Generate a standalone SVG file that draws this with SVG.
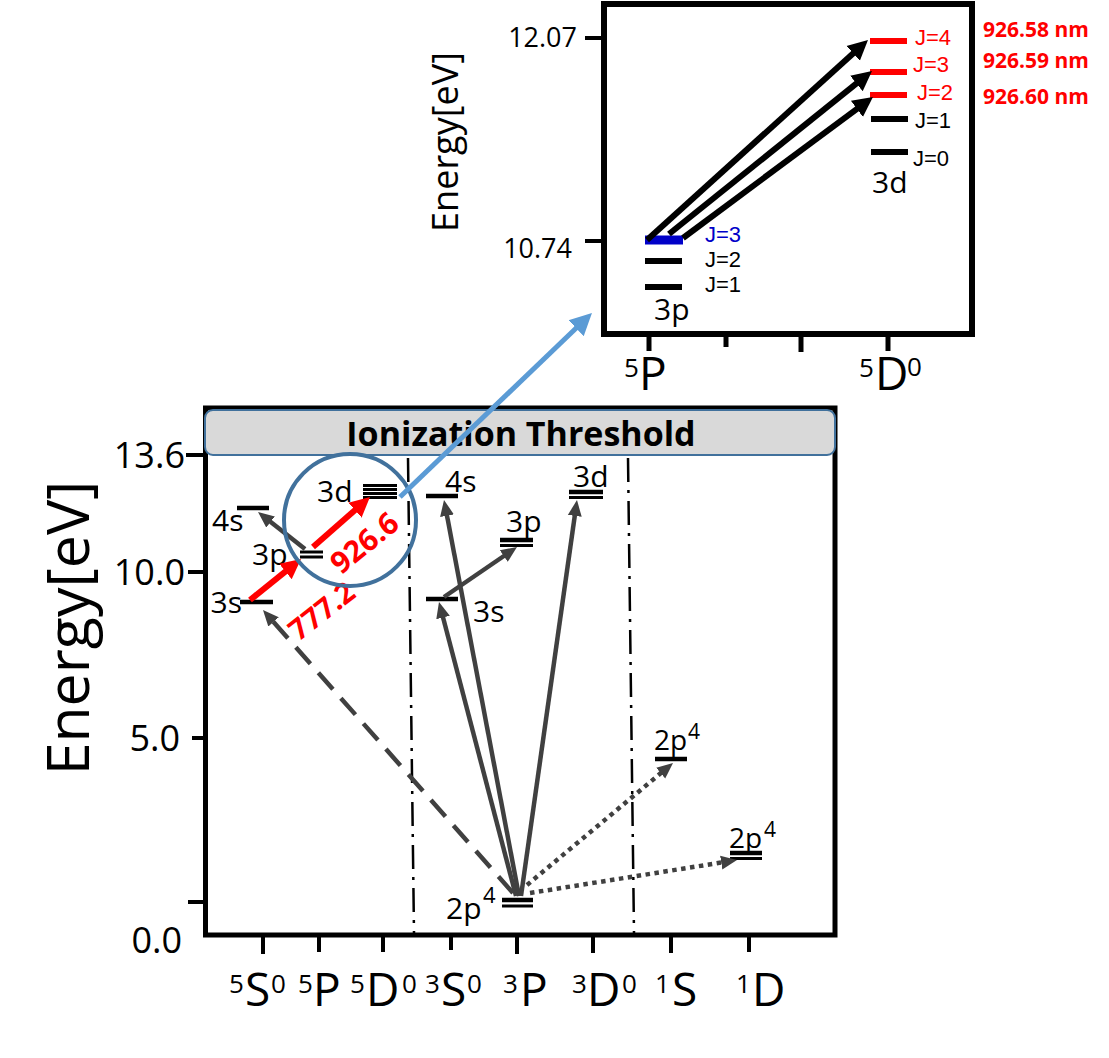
<svg xmlns="http://www.w3.org/2000/svg" width="1109" height="1058" viewBox="0 0 1109 1058">
<style>
text{font-family:"Open Sans","Noto Sans","Liberation Sans",sans-serif;fill:#000}
.lbl{font-size:30px}
.j{font-size:22px;font-family:"Liberation Sans","DejaVu Sans",sans-serif}
.nm{font-size:21px;font-weight:bold;fill:#ff0000}
.red{fill:#ff0000}
.ax{font-size:36px}
.xl{font-size:46px}
.xs{font-size:26px}
.lv{stroke:#000;stroke-width:4.5;fill:none}
.lvt{stroke:#000;stroke-width:3;fill:none}
.tick{stroke:#000;stroke-width:4}
.g{stroke:#404040;stroke-width:4.5;fill:none}
.rd{stroke:#ff0000;stroke-width:6;fill:none}
.bk{stroke:#000;stroke-width:6;fill:none}
.dd{stroke:#000;stroke-width:2.5;stroke-dasharray:24 8 3 8;fill:none}
</style>
<defs>
<marker id="hg" markerUnits="userSpaceOnUse" markerWidth="20" markerHeight="18" refX="1" refY="8" orient="auto" viewBox="0 0 20 16"><path d="M0,1 L16,8 L0,15 z" fill="#404040"/></marker>
<marker id="hr" markerUnits="userSpaceOnUse" markerWidth="24" markerHeight="24" refX="1" refY="11" orient="auto" viewBox="0 0 24 22"><path d="M0,1 L20,11 L0,21 z" fill="#ff0000"/></marker>
<marker id="hk" markerUnits="userSpaceOnUse" markerWidth="24" markerHeight="24" refX="1" refY="11" orient="auto" viewBox="0 0 24 22"><path d="M0,1 L20,11 L0,21 z" fill="#000"/></marker>
<marker id="hb" markerUnits="userSpaceOnUse" markerWidth="26" markerHeight="26" refX="1" refY="12" orient="auto" viewBox="0 0 26 24"><path d="M0,1 L22,12 L0,23 z" fill="#5b9bd5"/></marker>
</defs>

<!-- ===== Main plot frame ===== -->
<g id="main-frame">
<rect x="205.5" y="408" width="629.5" height="527" fill="#fff" stroke="#000" stroke-width="5"/>
<line class="tick" x1="186" y1="455" x2="205" y2="455"/>
<line class="tick" x1="188" y1="572" x2="205" y2="572"/>
<line class="tick" x1="192" y1="738" x2="205" y2="738"/>
<line class="tick" x1="188" y1="902" x2="204" y2="902"/>
<text class="ax" x="185" y="468" text-anchor="end">13.6</text>
<text class="ax" x="185" y="585" text-anchor="end">10.0</text>
<text class="ax" x="180" y="751" text-anchor="end">5.0</text>
<text class="ax" x="182" y="953" text-anchor="end">0.0</text>
<text x="0" y="0" font-size="59" text-anchor="middle" transform="translate(89,628) rotate(-90)">Energy[eV]</text>
<line class="tick" x1="263" y1="936" x2="263" y2="954"/>
<line class="tick" x1="319" y1="936" x2="319" y2="952"/>
<line class="tick" x1="383" y1="936" x2="383" y2="952"/>
<line class="tick" x1="451" y1="936" x2="451" y2="950"/>
<line class="tick" x1="517" y1="936" x2="517" y2="954"/>
<line class="tick" x1="593" y1="936" x2="593" y2="953"/>
<line class="tick" x1="671" y1="936" x2="671" y2="953"/>
<line class="tick" x1="749" y1="936" x2="749" y2="952"/>
<text><tspan class="xs" x="229" y="993">5</tspan><tspan class="xl" x="245" y="1006">S</tspan><tspan class="xs" x="271" y="993">0</tspan></text>
<text><tspan class="xs" x="298" y="993">5</tspan><tspan class="xl" x="313" y="1006">P</tspan></text>
<text><tspan class="xs" x="350" y="993">5</tspan><tspan class="xl" x="366" y="1006">D</tspan><tspan class="xs" x="402" y="993">0</tspan></text>
<text><tspan class="xs" x="425" y="993">3</tspan><tspan class="xl" x="441" y="1006">S</tspan><tspan class="xs" x="467" y="993">0</tspan></text>
<text><tspan class="xs" x="503" y="993">3</tspan><tspan class="xl" x="520" y="1006">P</tspan></text>
<text><tspan class="xs" x="572" y="993">3</tspan><tspan class="xl" x="587" y="1006">D</tspan><tspan class="xs" x="622" y="993">0</tspan></text>
<text><tspan class="xs" x="655" y="993">1</tspan><tspan class="xl" x="672" y="1006">S</tspan></text>
<text><tspan class="xs" x="736" y="993">1</tspan><tspan class="xl" x="752" y="1006">D</tspan></text>
<line class="dd" x1="408" y1="458" x2="414" y2="933"/>
<line class="dd" x1="628" y1="458" x2="634" y2="933"/>
</g>

<g id="ionization-threshold">
<rect x="205" y="410" width="630" height="45" rx="8" ry="8" fill="#d9d9d9" stroke="#41719c" stroke-width="2"/>
<text x="521" y="446" font-size="34" font-weight="bold" text-anchor="middle">Ionization Threshold</text>
</g>

<!-- ===== Levels ===== -->
<g id="lvl-5s0-3s"><line class="lv" x1="240" y1="602" x2="273" y2="602"/><text class="lbl" x="242" y="613" text-anchor="end">3s</text></g>
<g id="lvl-5s0-4s"><line class="lv" x1="237" y1="508" x2="269" y2="508"/><text class="lbl" x="212" y="531">4s</text></g>
<g id="lvl-5p-3p"><line class="lvt" x1="300" y1="552" x2="323" y2="552"/><line class="lvt" x1="300" y1="557" x2="323" y2="557"/><text class="lbl" x="252" y="565">3p</text></g>
<g id="lvl-5d0-3d"><line class="lvt" x1="363" y1="485.5" x2="397" y2="485.5"/><line class="lvt" x1="363" y1="489.5" x2="397" y2="489.5"/><line class="lvt" x1="363" y1="493.5" x2="397" y2="493.5"/><line class="lvt" x1="363" y1="497.5" x2="397" y2="497.5"/><text class="lbl" x="317" y="502">3d</text></g>
<g id="lvl-3s0-3s"><line class="lv" x1="426" y1="599" x2="458" y2="599"/><text class="lbl" x="473" y="622">3s</text></g>
<g id="lvl-3s0-4s"><line class="lv" x1="426" y1="496" x2="458" y2="496"/><text class="lbl" x="445" y="492">4s</text></g>
<g id="lvl-3p-3p"><line class="lv" x1="500" y1="540" x2="533" y2="540"/><line class="lvt" x1="500" y1="545.5" x2="533" y2="545.5"/><text class="lbl" x="506" y="532">3p</text></g>
<g id="lvl-3d0-3d"><line class="lv" x1="569" y1="492" x2="603" y2="492"/><line class="lvt" x1="569" y1="497.5" x2="603" y2="497.5"/><text class="lbl" x="573" y="487">3d</text></g>
<g id="lvl-3p-2p4"><line class="lv" x1="502" y1="900" x2="533" y2="900"/><line class="lvt" x1="502" y1="906" x2="533" y2="906"/><text><tspan class="lbl" x="446" y="919">2p</tspan><tspan font-size="22" x="483" y="903">4</tspan></text></g>
<g id="lvl-1s-2p4"><line class="lv" x1="655" y1="759" x2="687" y2="759"/><text><tspan font-size="28" x="654" y="750">2p</tspan><tspan font-size="21" x="688" y="739">4</tspan></text></g>
<g id="lvl-1d-2p4"><line class="lv" x1="730" y1="853" x2="762" y2="853"/><line class="lvt" x1="730" y1="858.5" x2="762" y2="858.5"/><text><tspan font-size="28" x="729" y="848">2p</tspan><tspan font-size="21" x="764" y="837">4</tspan></text></g>

<!-- ===== Main connectors ===== -->
<g id="connectors">
<line class="g" x1="305" y1="549" x2="269.8" y2="521.3" marker-end="url(#hg)"/>
<line class="g" x1="513" y1="893" x2="272.9" y2="621.2" stroke-width="5" stroke-dasharray="22 12" marker-end="url(#hg)"/>
<line class="g" x1="516" y1="896" x2="442.8" y2="616.5" marker-end="url(#hg)"/>
<line class="g" x1="519" y1="896" x2="446.8" y2="514.7" marker-end="url(#hg)"/>
<line class="g" x1="521" y1="896" x2="574.9" y2="514.9" marker-end="url(#hg)"/>
<line class="g" x1="444" y1="597" x2="504.6" y2="555.5" marker-end="url(#hg)"/>
<line class="g" x1="527" y1="885" x2="661.5" y2="772.6" stroke-width="5" stroke-dasharray="4.5 4.5" marker-end="url(#hg)"/>
<line class="g" x1="530" y1="893" x2="722.2" y2="862.4" stroke-width="5" stroke-dasharray="4.5 4.5" marker-end="url(#hg)"/>
<line class="rd" x1="250" y1="600" x2="286.2" y2="570.9" marker-end="url(#hr)"/>
<line class="rd" x1="313" y1="547" x2="355.7" y2="509.5" marker-end="url(#hr)"/>
<text class="red" x="0" y="0" font-size="30" font-weight="bold" text-anchor="middle" transform="translate(371,551) rotate(-39)">926.6</text>
<text class="red" x="0" y="0" font-size="29" font-weight="bold" text-anchor="middle" transform="translate(328,619) rotate(-38)">777.2</text>
<circle cx="350" cy="520" r="66" fill="none" stroke="#41719c" stroke-width="4"/>
<line x1="400" y1="497" x2="576.8" y2="327.5" stroke="#5b9bd5" stroke-width="5" marker-end="url(#hb)"/>
</g>

<!-- ===== Inset ===== -->
<g id="inset-frame">
<rect x="604" y="4" width="368" height="330" fill="#fff" stroke="#000" stroke-width="6"/>
<line class="tick" x1="585" y1="38" x2="602" y2="38"/>
<line class="tick" x1="585" y1="241" x2="602" y2="241"/>
<text font-size="27" x="577" y="47" text-anchor="end">12.07</text>
<text font-size="27" x="572" y="258" text-anchor="end">10.74</text>
<text x="0" y="0" font-size="36" text-anchor="middle" transform="translate(458,142) rotate(-90)">Energy[eV]</text>
<line x1="649" y1="336" x2="649" y2="351" stroke="#000" stroke-width="5"/>
<line x1="726" y1="336" x2="726" y2="347" stroke="#000" stroke-width="5"/>
<line x1="801" y1="336" x2="801" y2="352" stroke="#000" stroke-width="5"/>
<line x1="888" y1="336" x2="888" y2="351" stroke="#000" stroke-width="5"/>
<text><tspan class="xs" x="624" y="377">5</tspan><tspan class="xl" x="639" y="390">P</tspan></text>
<text><tspan class="xs" x="859" y="377">5</tspan><tspan class="xl" x="875" y="390">D</tspan><tspan class="xs" x="907" y="376">0</tspan></text>
</g>
<g id="inset-5p-3p">
<line x1="645" y1="240" x2="683" y2="240" stroke="#0000c8" stroke-width="9"/>
<line x1="645" y1="261" x2="682" y2="261" stroke="#000" stroke-width="6"/>
<line x1="645" y1="287" x2="682" y2="287" stroke="#000" stroke-width="6"/>
<text class="j" x="705" y="242" style="fill:#0000c8">J=3</text>
<text class="j" x="705" y="267">J=2</text>
<text class="j" x="705" y="292">J=1</text>
<text class="lbl" x="654" y="320">3p</text>
</g>
<g id="inset-5d0-3d">
<line x1="870" y1="41" x2="907" y2="41" stroke="#ff0000" stroke-width="6"/>
<line x1="870" y1="72" x2="907" y2="72" stroke="#ff0000" stroke-width="6"/>
<line x1="870" y1="95" x2="907" y2="95" stroke="#ff0000" stroke-width="6"/>
<line x1="871" y1="119" x2="908" y2="119" stroke="#000" stroke-width="6"/>
<line x1="871" y1="152" x2="908" y2="152" stroke="#000" stroke-width="6"/>
<text class="j red" x="915" y="45">J=4</text>
<text class="j red" x="913" y="72">J=3</text>
<text class="j red" x="917" y="100">J=2</text>
<text class="j" x="915" y="128">J=1</text>
<text class="j" x="913" y="166">J=0</text>
<text class="lbl" x="872" y="193">3d</text>
<text class="nm" x="983" y="37">926.58 nm</text>
<text class="nm" x="983" y="68">926.59 nm</text>
<text class="nm" x="983" y="104">926.60 nm</text>
</g>
<g id="inset-connectors">
<line class="bk" x1="647" y1="240" x2="853.9" y2="52.75" marker-end="url(#hk)"/>
<line class="bk" x1="669" y1="234" x2="857.2" y2="82.9" marker-end="url(#hk)"/>
<line class="bk" x1="683" y1="238" x2="857.7" y2="108.3" marker-end="url(#hk)"/>
</g>
</svg>
